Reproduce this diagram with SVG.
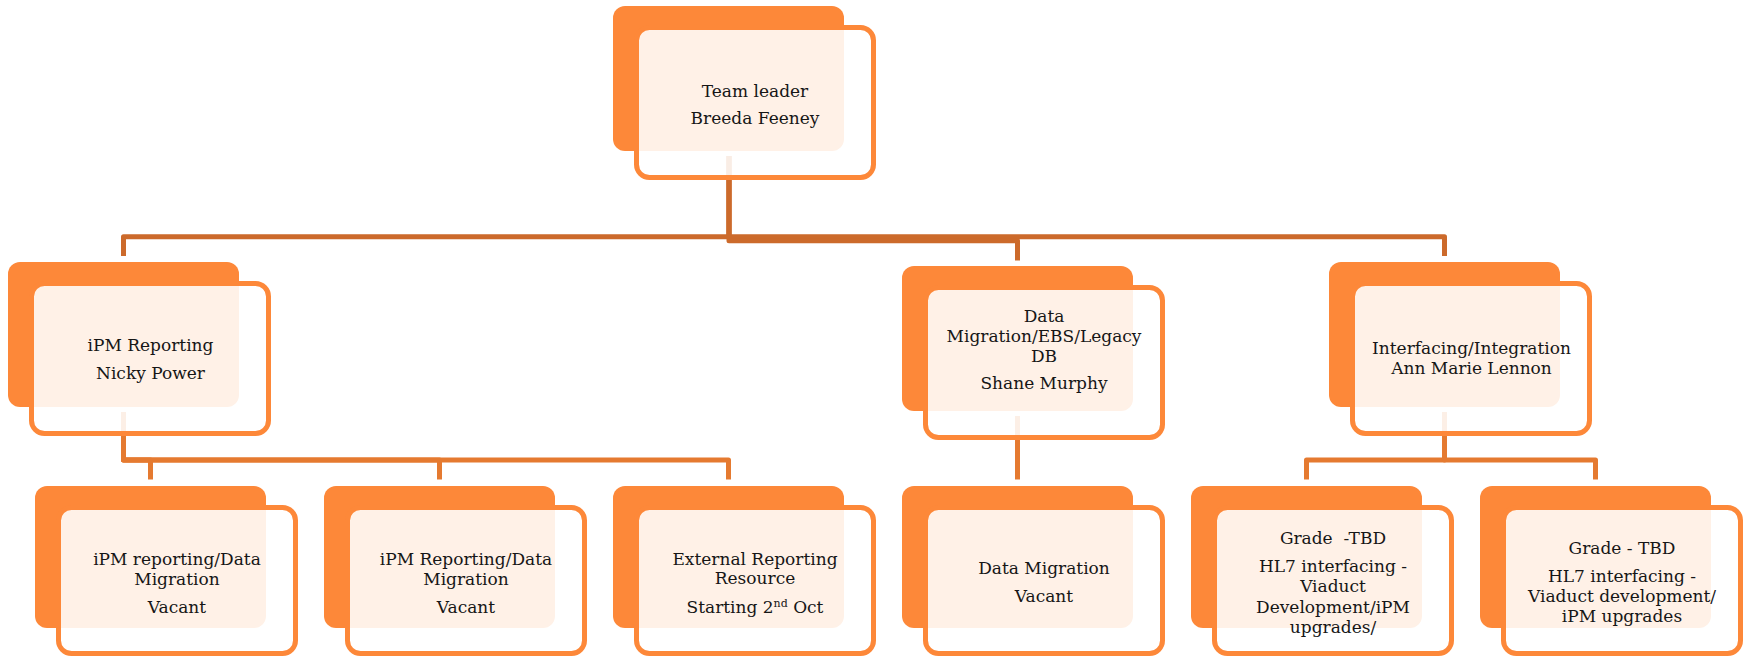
<svg xmlns="http://www.w3.org/2000/svg" width="1748" height="658" viewBox="0 0 1748 658">
<style>
.bk{fill:#FD8839}
.fr{fill:#FFFFFF;fill-opacity:0.88;stroke:#FD8839;stroke-width:5}
.t{font-family:"DejaVu Serif","Liberation Serif",serif;font-size:17px;fill:#161616;text-anchor:middle}
.c1{fill:none;stroke:#CC6A2B;stroke-width:5;stroke-linejoin:round}
.c2{fill:none;stroke:#E57A30;stroke-width:5;stroke-linejoin:round}
</style>
<rect width="1748" height="658" fill="#FFFFFF"/>
<g id="connectors">
<path class="c1" d="M729,156 V236.8 H123.5 V256"/>
<path class="c1" d="M729,156 V236.8 H1444.5 V256"/>
<path class="c1" d="M729,156 V240.8 H1017.5 V260.5"/>
<path class="c2" d="M123.5,412 V460 H150.5 V479.5"/>
<path class="c2" d="M123.5,412 V460 H439.5 V479.5"/>
<path class="c2" d="M123.5,412 V460 H728.5 V479.5"/>
<path class="c2" d="M1017.5,416 V479.5"/>
<path class="c2" d="M1444.5,412 V460 H1306.5 V479.5"/>
<path class="c2" d="M1444.5,412 V460 H1595.5 V479.5"/>
</g>
<g id="root">
<rect class="bk" x="613" y="6" width="231" height="145" rx="12"/>
<rect class="fr" x="636.5" y="27.5" width="237" height="150" rx="13"/>
<text class="t" x="755" y="97">Team leader</text>
<text class="t" x="755" y="124">Breeda Feeney</text>
</g>
<g id="m1">
<rect class="bk" x="8" y="262" width="231" height="145" rx="12"/>
<rect class="fr" x="31.5" y="283.5" width="237" height="150" rx="13"/>
<text class="t" x="150.5" y="351">iPM Reporting</text>
<text class="t" x="150.5" y="379">Nicky Power</text>
</g>
<g id="m2">
<rect class="bk" x="902" y="266" width="231" height="145" rx="12"/>
<rect class="fr" x="925.5" y="287.5" width="237" height="150" rx="13"/>
<text class="t" x="1044" y="322">Data</text>
<text class="t" x="1044" y="342">Migration/EBS/Legacy</text>
<text class="t" x="1044" y="362">DB</text>
<text class="t" x="1044" y="389">Shane Murphy</text>
</g>
<g id="m3">
<rect class="bk" x="1329" y="262" width="231" height="145" rx="12"/>
<rect class="fr" x="1352.5" y="283.5" width="237" height="150" rx="13"/>
<text class="t" x="1471.5" y="354">Interfacing/Integration</text>
<text class="t" x="1471.5" y="374">Ann Marie Lennon</text>
</g>
<g id="b1">
<rect class="bk" x="35" y="486" width="231" height="142" rx="12"/>
<rect class="fr" x="58.5" y="507.5" width="237" height="146" rx="13"/>
<text class="t" x="177" y="565">iPM reporting/Data</text>
<text class="t" x="177" y="585">Migration</text>
<text class="t" x="177" y="613">Vacant</text>
</g>
<g id="b2">
<rect class="bk" x="324" y="486" width="231" height="142" rx="12"/>
<rect class="fr" x="347.5" y="507.5" width="237" height="146" rx="13"/>
<text class="t" x="466" y="565">iPM Reporting/Data</text>
<text class="t" x="466" y="585">Migration</text>
<text class="t" x="466" y="613">Vacant</text>
</g>
<g id="b3">
<rect class="bk" x="613" y="486" width="231" height="142" rx="12"/>
<rect class="fr" x="636.5" y="507.5" width="237" height="146" rx="13"/>
<text class="t" x="755" y="565">External Reporting</text>
<text class="t" x="755" y="584">Resource</text>
<text class="t" x="755" y="613">Starting 2<tspan font-size="11" baseline-shift="super">nd</tspan> Oct</text>
</g>
<g id="b4">
<rect class="bk" x="902" y="486" width="231" height="142" rx="12"/>
<rect class="fr" x="925.5" y="507.5" width="237" height="146" rx="13"/>
<text class="t" x="1044" y="574">Data Migration</text>
<text class="t" x="1044" y="602">Vacant</text>
</g>
<g id="b5">
<rect class="bk" x="1191" y="486" width="231" height="142" rx="12"/>
<rect class="fr" x="1214.5" y="507.5" width="237" height="146" rx="13"/>
<text class="t" x="1333" y="544" xml:space="preserve">Grade  -TBD</text>
<text class="t" x="1333" y="572">HL7 interfacing -</text>
<text class="t" x="1333" y="592">Viaduct</text>
<text class="t" x="1333" y="613">Development/iPM</text>
<text class="t" x="1333" y="633">upgrades/</text>
</g>
<g id="b6">
<rect class="bk" x="1480" y="486" width="231" height="142" rx="12"/>
<rect class="fr" x="1503.5" y="507.5" width="237" height="146" rx="13"/>
<text class="t" x="1622" y="554">Grade - TBD</text>
<text class="t" x="1622" y="582">HL7 interfacing -</text>
<text class="t" x="1622" y="602">Viaduct development/</text>
<text class="t" x="1622" y="622">iPM upgrades</text>
</g>
</svg>
